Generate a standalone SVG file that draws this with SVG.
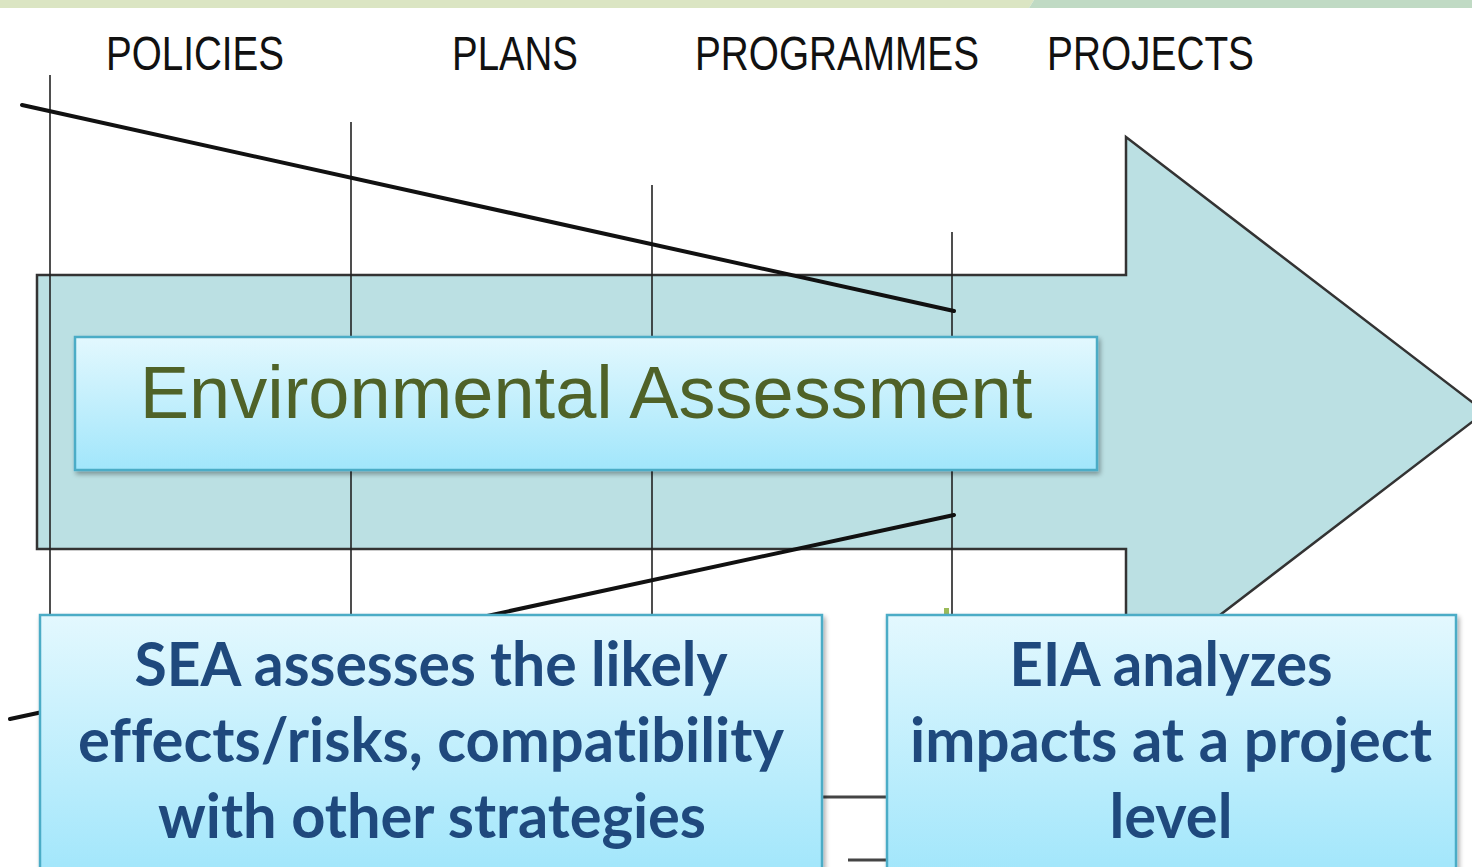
<svg xmlns="http://www.w3.org/2000/svg" width="1472" height="867" viewBox="0 0 1472 867">
  <defs>
    <linearGradient id="boxGrad" x1="0" y1="0" x2="0" y2="1">
      <stop offset="0" stop-color="#e3f8fe"/>
      <stop offset="1" stop-color="#a1e6fb"/>
    </linearGradient>
    <filter id="shadow" x="-5%" y="-10%" width="110%" height="125%">
      <feGaussianBlur in="SourceAlpha" stdDeviation="2.5"/>
      <feOffset dx="2" dy="3" result="b"/>
      <feComponentTransfer><feFuncA type="linear" slope="0.35"/></feComponentTransfer>
      <feMerge><feMergeNode/><feMergeNode in="SourceGraphic"/></feMerge>
    </filter>
  </defs>
  <style>
    .label { font-family: "Liberation Sans", Arial, sans-serif; font-size: 48px; fill: #111; }
    .vline { stroke: #222; stroke-width: 1.6; fill: none; }
    .dline { stroke: #111; stroke-width: 4; fill: none; stroke-linecap: round; }
    .hline { stroke: #444; stroke-width: 3; fill: none; }
    .box { fill: url(#boxGrad); stroke: #4bacc6; stroke-width: 2.5; }
    .boxtext { font-family: Lato, "Open Sans", sans-serif; font-weight: bold; font-size: 61px; fill: #1f497d; text-anchor: middle; font-variant-ligatures: none; font-feature-settings: "liga" 0, "clig" 0; }
    .eatext { font-family: "Liberation Sans", Arial, sans-serif; font-size: 74px; fill: #4f6228; text-anchor: middle; }
  </style>
  <rect width="1472" height="867" fill="#ffffff"/>
  <polygon points="0,0 1034,0 1029,8 0,8" fill="#dbe5c3"/>
  <polygon points="1034,0 1472,0 1472,8 1029,8" fill="#c0dac4"/>

  <g id="labels">
    <text class="label" x="106" y="70" textLength="178" lengthAdjust="spacingAndGlyphs">POLICIES</text>
    <text class="label" x="452" y="70" textLength="126" lengthAdjust="spacingAndGlyphs">PLANS</text>
    <text class="label" x="695" y="70" textLength="284" lengthAdjust="spacingAndGlyphs">PROGRAMMES</text>
    <text class="label" x="1047" y="70" textLength="207" lengthAdjust="spacingAndGlyphs">PROJECTS</text>
  </g>

  <g id="arrow">
    <polygon points="37,275 1126,275 1126,137 1485,412 1126,687 1126,549 37,549" fill="#bbe0e3" stroke="#333" stroke-width="2.5" stroke-linejoin="miter"/>
  </g>

  <g id="connectors">
    <line class="vline" x1="50" y1="75" x2="50" y2="640"/>
    <line class="vline" x1="351" y1="122" x2="351" y2="640"/>
    <line class="vline" x1="652" y1="185" x2="652" y2="640"/>
    <line class="vline" x1="952" y1="232" x2="952" y2="640"/>
    <line class="dline" x1="22" y1="105" x2="954" y2="311"/>
    <line class="dline" x1="954" y1="515" x2="10" y2="719"/>
    <line class="hline" x1="800" y1="797" x2="900" y2="797"/>
    <line class="hline" x1="848" y1="860" x2="900" y2="860"/>
    <rect x="944" y="608" width="5" height="6" fill="#9bbb59"/>
  </g>

  <g id="ea">
    <rect class="box" x="75" y="337" width="1022" height="133" filter="url(#shadow)"/>
    <text class="eatext" x="586" y="418">Environmental Assessment</text>
  </g>

  <g id="sea">
    <rect class="box" x="40" y="615" width="782" height="262" filter="url(#shadow)"/>
    <text class="boxtext" x="431" y="686" textLength="593" lengthAdjust="spacingAndGlyphs">SEA assesses the likely</text>
    <text class="boxtext" x="431" y="762" textLength="706" lengthAdjust="spacingAndGlyphs">effects/risks, compatibility</text>
    <text class="boxtext" x="432" y="838" textLength="548" lengthAdjust="spacingAndGlyphs">with other strategies</text>
  </g>

  <g id="eia">
    <rect class="box" x="887" y="615" width="569" height="262" filter="url(#shadow)"/>
    <text class="boxtext" x="1171" y="686" textLength="323" lengthAdjust="spacingAndGlyphs">EIA analyzes</text>
    <text class="boxtext" x="1171" y="762" textLength="522" lengthAdjust="spacingAndGlyphs">impacts at a project</text>
    <text class="boxtext" x="1171" y="838" textLength="123" lengthAdjust="spacingAndGlyphs">level</text>
  </g>
</svg>
